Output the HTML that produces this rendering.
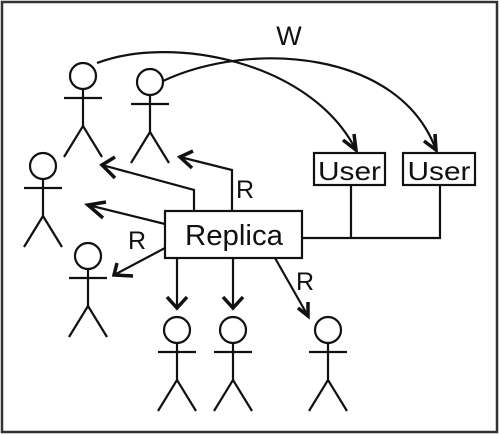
<!DOCTYPE html>
<html><head><style>
html,body{margin:0;padding:0;background:#fff;}
svg{display:block;}
text{font-family:"Liberation Sans",sans-serif;fill:#111;}
</style></head><body>
<svg width="500" height="435" viewBox="0 0 500 435" xmlns="http://www.w3.org/2000/svg">
<rect x="2" y="2" width="495" height="430" fill="none" stroke="#333" stroke-width="2.5"/>
<defs>
<g id="fig" stroke="#111" stroke-width="2.2" fill="none">
<circle cx="0" cy="0" r="13"/>
<line x1="0" y1="13" x2="0" y2="50"/>
<line x1="-19" y1="22" x2="19" y2="22"/>
<line x1="0" y1="50" x2="-19" y2="81"/>
<line x1="0" y1="50" x2="19" y2="81"/>
</g>
</defs>
<use href="#fig" x="83" y="76"/>
<use href="#fig" x="150" y="82"/>
<use href="#fig" x="43" y="166"/>
<use href="#fig" x="88" y="256"/>
<use href="#fig" x="177" y="330"/>
<use href="#fig" x="233" y="330"/>
<use href="#fig" x="328" y="330"/>
<g stroke="#111" stroke-width="2.2" fill="none">
<path d="M97 63 C170 35 310 60 356 150"/>
<path d="M163 81 C250 40 400 50 436 150"/>
<rect x="165" y="211" width="137" height="47"/>
<rect x="314" y="153" width="71" height="32"/>
<rect x="403" y="153" width="72" height="32"/>
<path d="M351 185 V238 M440 185 V238 H302"/>
<path d="M194 211 V190 L102 165"/>
<path d="M232 211 V170 L180 157"/>
<path d="M165 224 L88 205"/>
<path d="M165 248 L114 275"/>
<path d="M177 258 V308"/>
<path d="M233 258 V308"/>
<path d="M275 258 L308 316"/>
</g>
<g stroke="#111" stroke-width="3.5" fill="none" stroke-linejoin="miter">
<path d="M343 140 L356 150 L354 134"/>
<path d="M424 141 L436 150 L435 134"/>
<path d="M115 157 L102 165 L115 178"/>
<path d="M193 151 L180 157 L192 168"/>
<path d="M106 202 L88 205 L103 218"/>
<path d="M117 263 L114 275 L133 276"/>
<path d="M167 297 L177 308 L187 297"/>
<path d="M223 297 L233 308 L243 297"/>
<path d="M298 308 L308 316 L308 302"/>
</g>
<text x="234" y="245" font-size="29" text-anchor="middle" textLength="98" lengthAdjust="spacingAndGlyphs">Replica</text>
<text x="349.5" y="180" font-size="26" text-anchor="middle" textLength="63" lengthAdjust="spacingAndGlyphs">User</text>
<text x="439" y="180" font-size="26" text-anchor="middle" textLength="63" lengthAdjust="spacingAndGlyphs">User</text>
<text x="289" y="45" font-size="27" text-anchor="middle">W</text>
<text x="245" y="198" font-size="25" text-anchor="middle">R</text>
<text x="137" y="249" font-size="25" text-anchor="middle">R</text>
<text x="305" y="290" font-size="25" text-anchor="middle">R</text>
</svg>
</body></html>
